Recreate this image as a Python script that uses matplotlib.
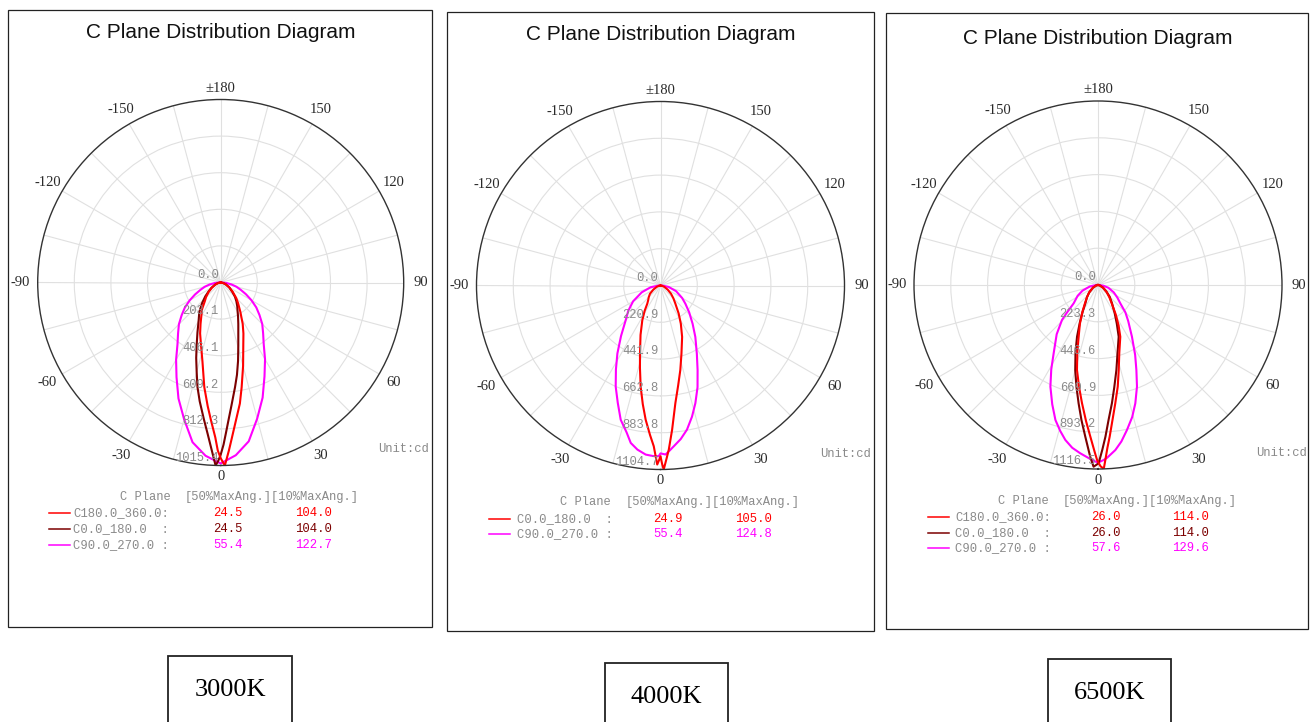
import numpy as np
import matplotlib
matplotlib.use("Agg")
import matplotlib.pyplot as plt
from matplotlib.patches import Rectangle

# ---------------- data ----------------
titles = ["C Plane Distribution Diagram"] * 3
cct_labels = ["3000K", "4000K", "6500K"]

ring_labels_1 = ["0.0", "203.1", "406.1", "609.2", "812.3", "1015.4"]
ring_labels_2 = ["0.0", "220.9", "441.9", "662.8", "883.8", "1104.7"]
ring_labels_3 = ["0.0", "223.3", "446.6", "669.9", "893.2", "1116.5"]
rmax_1, rmax_2, rmax_3 = 1015.4, 1104.7, 1116.5

angle_ticks = [0, 30, 60, 90, 120, 150, 180, -30, -60, -90, -120, -150]
angle_tick_labels = ["0", "30", "60", "90", "120", "150", "\u00b1180",
                     "-30", "-60", "-90", "-120", "-150"]

# ---- 3000K ----
p1_c90_ang = [-90, -85, -80, -75, -70, -65, -60, -55, -50, -45, -40, -35, -30, -25,
              -20, -15, -10, -5, 0, 5, 10, 15, 20, 25, 30, 35, 40, 45, 50, 55,
              60, 65, 70, 75, 80, 85, 90]
p1_c90_val = [8, 33, 62, 92, 120, 157, 199, 243, 283, 328, 368, 418, 495, 580,
              685, 785, 900, 965, 1004, 962, 895, 782, 680, 575, 492, 416, 366, 326, 281, 241,
              197, 155, 118, 90, 60, 32, 8]
p1_c0_ang = [-90, -80, -70, -60, -53, -48, -42, -36, -30, -25, -21, -18, -15,
             -12.5, -10, -7, -5, -3, -1.6, -0.8, 0, 1, 2, 3.2, 5, 7.8, 10, 12.5,
             15.7, 19, 23, 27, 30, 35, 40, 45, 51, 60, 70, 80, 90]
p1_c0_val = [0, 14, 32, 60, 86, 115, 155, 202, 245, 305, 372, 440, 515,
             595, 670, 765, 840, 935, 1016, 990, 955, 900, 835, 767, 685, 586, 520, 445,
             361, 300, 250, 212, 188, 160, 135, 112, 83, 55, 30, 13, 0]
p1_c180_ang = [-90, -80, -70, -60, -52, -45, -40, -35, -30, -26, -22, -17.4, -13,
               -8.9, -6, -4, -2, -1, 0, 1.3, 2.8, 4, 6.3, 9, 11.3, 15, 19.8, 24,
               28, 33.8, 40, 45, 52, 60, 70, 80, 90]
p1_c180_val = [0, 13, 30, 55, 85, 115, 138, 180, 215, 255, 305, 365, 450,
               588, 690, 768, 860, 932, 975, 1016, 933, 870, 770, 680, 593, 480, 370, 310,
               260, 196, 150, 122, 85, 55, 30, 13, 0]

# ---- 4000K ----
p2_c90_ang = [-90, -80, -70, -60, -52, -45, -38, -32.4, -28, -23.9, -20, -16.5,
              -13, -10.7, -8, -5, -2.5, -0.6, 0, 1.7, 3, 4.7, 7.5, 10.4, 13.5,
              16.5, 20, 23.7, 28, 34.1, 40, 47, 53.8, 60, 70, 80, 90]
p2_c90_val = [10, 60, 120, 190, 245, 296, 385, 483, 570, 664, 750, 841,
              905, 962, 995, 1019, 1025, 1025, 1008, 1015, 995, 969, 930, 880, 810,
              737, 650, 554, 465, 373, 300, 235, 185, 150, 100, 50, 10]
p2_c0_ang = [-90, -80, -70, -60, -52, -45, -40, -36, -32, -27.6, -22, -16.8,
             -14, -11.1, -8.5, -6.3, -4, -2.4, -1.05, -0.5, 0, 0.5, 1, 2, 2.9,
             4.6, 7.2, 10, 13.2, 17, 22.8, 28, 33, 39.3, 45, 52, 60, 70, 80, 90]
p2_c0_val = [0, 10, 25, 50, 80, 100, 115, 135, 180, 236, 320, 426,
             510, 619, 720, 811, 900, 966, 1075, 1050, 1025, 1070, 1105, 1040, 986,
             869, 712, 610, 521, 430, 335, 260, 200, 141, 110, 80, 50, 25, 10, 0]

# ---- 6500K ----
p3_c90_ang = [-90, -80, -70, -62, -53, -48, -45.8, -40, -33, -29, -25.1, -21,
              -17.5, -14.5, -11.9, -9, -6, -2, 0, 1.9, 3, 6, 8.5, 11.3, 14.5,
              17.5, 21, 24.3, 28, 33.3, 40, 45, 50.6, 57, 65, 75, 82, 90]
p3_c90_val = [10, 50, 100, 140, 185, 260, 305, 390, 494, 585, 681, 775,
              859, 915, 961, 1000, 1027, 1062, 1078, 1062, 1050, 1007, 960, 897, 828,
              753, 660, 566, 480, 375, 285, 235, 175, 140, 105, 65, 35, 10]
p3_c0_ang = [-90, -75, -62, -50, -42, -34.7, -30, -26, -22.1, -18.5, -15, -12,
             -9.3, -7, -4.8, -2.6, -1.4, 0.2, 1.5, 2.8, 4.5, 6.7, 9, 12.2, 16,
             21.8, 26, 31, 37.4, 45, 52, 62, 75, 90]
p3_c0_val = [0, 12, 35, 70, 100, 135, 185, 250, 338, 430, 534, 630,
             728, 825, 923, 1043, 1103, 1082, 1000, 922, 820, 723, 630, 528, 430,
             338, 260, 195, 140, 100, 65, 35, 12, 0]
p3_c180_ang = [-90, -75, -62, -50, -42, -35, -30, -25, -20.5, -17, -13.9, -10.5,
               -7.7, -5, -2.9, -1.2, -0.3, 0.8, 1.8, 2.4, 3.3, 4.4, 6.2, 8.3, 11,
               13.7, 17.5, 23.3, 27, 31, 36, 42, 50, 62, 75, 90]
p3_c180_val = [0, 12, 35, 70, 100, 140, 190, 260, 335, 430, 531, 630,
               724, 830, 921, 1010, 1062, 1100, 1116, 1063, 990, 923, 820, 726, 628,
               531, 430, 342, 275, 210, 145, 105, 70, 35, 12, 0]

# legend tables
p1_names = ["C180.0_360.0:", "C0.0_180.0  :", "C90.0_270.0 :"]
p1_50 = ["24.5", "24.5", "55.4"]
p1_10 = ["104.0", "104.0", "122.7"]
p2_names = ["C0.0_180.0  :", "C90.0_270.0 :"]
p2_50 = ["24.9", "55.4"]
p2_10 = ["105.0", "124.8"]
p3_names = ["C180.0_360.0:", "C0.0_180.0  :", "C90.0_270.0 :"]
p3_50 = ["26.0", "26.0", "57.6"]
p3_10 = ["114.0", "114.0", "129.6"]

# ---------------- styles ----------------
RED = "#ff0000"
DARK = "#7c0000"
MAG = "#ff00ff"
GRAY = "#8a8a8a"

W, H = 1311, 722
fig = plt.figure(figsize=(W / 100, H / 100), dpi=100)
fig.patch.set_facecolor("white")


def fx(x):
    return x / W


def fy(y):
    return 1 - y / H


def frame(x0, y0, x1, y1, lw=0.9):
    fig.add_artist(Rectangle((fx(x0), fy(y1)), (x1 - x0) / W, (y1 - y0) / H,
                             transform=fig.transFigure, fill=False,
                             ec="#222222", lw=lw))


panels = [
    dict(box=(8, 10, 432, 627), c=(220.7, 282.5), R=183, rmax=rmax_1,
         rings=ring_labels_1, title_y=33,
         curves=[(p1_c90_ang, p1_c90_val, MAG), (p1_c0_ang, p1_c0_val, DARK),
                 (p1_c180_ang, p1_c180_val, RED)],
         unit=(378, 449),
         leg=dict(hx=120, hy=497, bx=185, rows=[513, 529, 545], lx0=49, lx1=70,
                  tx=73, v1=213, v2=295, names=p1_names, a=p1_50, b=p1_10,
                  cols=[RED, DARK, MAG]),
         cct=(168, 656, 292, 730)),
    dict(box=(447, 12, 874, 631), c=(660.5, 285.5), R=184, rmax=rmax_2,
         rings=ring_labels_2, title_y=35,
         curves=[(p2_c90_ang, p2_c90_val, MAG), (p2_c0_ang, p2_c0_val, RED)],
         unit=(820, 454),
         leg=dict(hx=560, hy=502, bx=626, rows=[519, 534], lx0=489, lx1=510,
                  tx=517, v1=653, v2=735, names=p2_names, a=p2_50, b=p2_10,
                  cols=[RED, MAG]),
         cct=(605, 663, 728, 730)),
    dict(box=(886, 13, 1308, 629), c=(1098, 285), R=184, rmax=rmax_3,
         rings=ring_labels_3, title_y=38,
         curves=[(p3_c90_ang, p3_c90_val, MAG), (p3_c0_ang, p3_c0_val, DARK),
                 (p3_c180_ang, p3_c180_val, RED)],
         unit=(1256, 453),
         leg=dict(hx=998, hy=501, bx=1063, rows=[517, 533, 548], lx0=928, lx1=949,
                  tx=955, v1=1091, v2=1172, names=p3_names, a=p3_50, b=p3_10,
                  cols=[RED, DARK, MAG]),
         cct=(1048, 659, 1171, 730)),
]

MONO = "Liberation Mono"
SERIF = "Liberation Serif"

for i, p in enumerate(panels):
    x0, y0, x1, y1 = p["box"]
    frame(x0, y0, x1, y1)
    cx, cy = p["c"]
    R = p["R"]
    fig.text(fx(cx), fy(p["title_y"]), titles[i], ha="center", va="center",
             fontsize=15, family="Liberation Sans", color="#111111")

    ax = fig.add_axes([fx(cx - R), fy(cy + R), 2 * R / W, 2 * R / H],
                      projection="polar")
    ax.set_theta_zero_location("S")
    ax.set_theta_direction(1)
    rmax = p["rmax"]
    ax.set_ylim(0, rmax)
    ax.set_xticks(np.deg2rad(np.arange(0, 360, 15)))
    ax.set_xticklabels([])
    ring_vals = [float(s) for s in p["rings"]]
    ax.set_yticks(ring_vals[1:-1])
    ax.set_yticklabels([])
    ax.tick_params(length=0)
    ax.grid(True, color="#e0e0e0", lw=0.8)
    ax.spines["polar"].set_color("#333333")
    ax.spines["polar"].set_linewidth(1.0)

    for a_list, v_list, col in p["curves"]:
        ax.plot(np.deg2rad(np.array(a_list)), np.array(v_list), color=col,
                lw=1.5, solid_joinstyle="round")

    for a, lab in zip(angle_ticks, angle_tick_labels):
        f = 1.06 if a in (0, 180) else 1.093
        ax.text(np.deg2rad(a), rmax * f, lab, ha="center", va="center",
                fontsize=10.5, family=SERIF, color="#2a2a2a", clip_on=False)

    for v, lab in zip(ring_vals, p["rings"]):
        ax.annotate(lab, xy=(0, v), xytext=(-1.5, 5.6), textcoords="offset points",
                    ha="right", va="center", fontsize=8.7, family=MONO,
                    color=GRAY, annotation_clip=False)

    ux, uy = p["unit"]
    fig.text(fx(ux), fy(uy), "Unit:cd", ha="left", va="center", fontsize=8.7,
             family=MONO, color=GRAY)

    L = p["leg"]
    fig.text(fx(L["hx"]), fy(L["hy"]), "C Plane", ha="left", va="center",
             fontsize=8.7, family=MONO, color=GRAY)
    fig.text(fx(L["bx"]), fy(L["hy"]), "[50%MaxAng.][10%MaxAng.]", ha="left",
             va="center", fontsize=8.7, family=MONO, color=GRAY)
    for ry, nm, va_, vb_, col in zip(L["rows"], L["names"], L["a"], L["b"], L["cols"]):
        fig.add_artist(plt.Line2D([fx(L["lx0"]), fx(L["lx1"])], [fy(ry), fy(ry)],
                                  transform=fig.transFigure, color=col, lw=1.1))
        fig.text(fx(L["tx"]), fy(ry), nm, ha="left", va="center", fontsize=8.8,
                 family=MONO, color=GRAY)
        fig.text(fx(L["v1"]), fy(ry), va_, ha="left", va="center", fontsize=8.8,
                 family=MONO, color=col)
        fig.text(fx(L["v2"]), fy(ry), vb_, ha="left", va="center", fontsize=8.8,
                 family=MONO, color=col)

    bx0, by0, bx1, by1 = p["cct"]
    frame(bx0, by0, bx1, by1, lw=1.3)
    fig.text(fx((bx0 + bx1) / 2), fy(by0 + 34), cct_labels[i], ha="center",
             va="center", fontsize=19, family=SERIF, color="black")

fig.savefig("out.png", dpi=100, facecolor="white")
